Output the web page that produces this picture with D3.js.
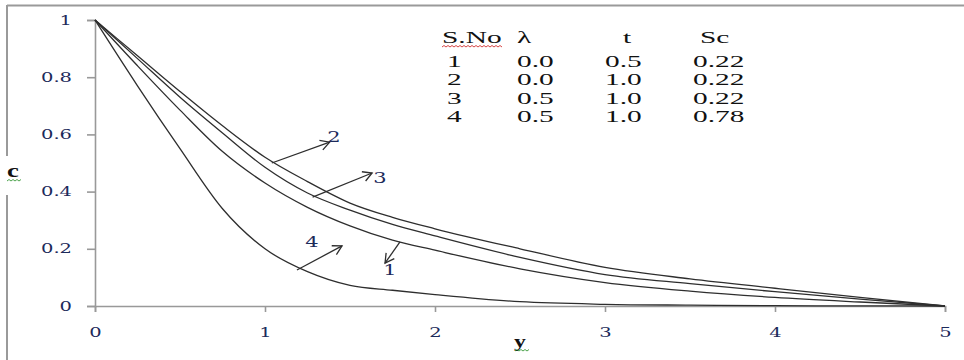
<!DOCTYPE html>
<html>
<head>
<meta charset="utf-8">
<script src="https://cdn.jsdelivr.net/npm/d3@7"></script>
<style>
  body { margin: 0; background: #fff; }
</style>
</head>
<body>
<script>
// distance from the plate
const yPoints = [0, 0.25, 0.5, 0.75, 1, 1.25, 1.5, 1.75, 2, 2.5, 3, 3.5, 4, 4.5, 5]
// concentration profiles, one per case
const conc1 = [1, 0.84, 0.685, 0.54, 0.43, 0.345, 0.28, 0.23, 0.195, 0.13, 0.082, 0.052, 0.03, 0.014, 0]
const conc2 = [1, 0.875, 0.75, 0.63, 0.52, 0.435, 0.36, 0.31, 0.27, 0.2, 0.135, 0.095, 0.062, 0.03, 0]
const conc3 = [1, 0.865, 0.73, 0.605, 0.485, 0.395, 0.335, 0.285, 0.245, 0.17, 0.11, 0.078, 0.05, 0.024, 0]
const conc4 = [1, 0.77, 0.55, 0.34, 0.2, 0.12, 0.072, 0.055, 0.04, 0.015, 0.006, 0.003, 0.001, 0.0005, 0]

const xTicks = [0, 1, 2, 3, 4, 5]
const yTicks = [0, 0.2, 0.4, 0.6, 0.8, 1]

// parameter table
const sNo = ['1', '2', '3', '4']
const lambdaVals = ['0.0', '0.0', '0.5', '0.5']
const tVals = ['0.5', '1.0', '1.0', '1.0']
const scVals = ['0.22', '0.22', '0.22', '0.78']

// arrow annotations: curve label, start point on curve, arrow tip, label position (data units)
const arrowLabels = ['2', '3', '1', '4']
const arrowStart = [[1.04, 0.50], [1.28, 0.381], [1.794, 0.224], [1.188, 0.126]]
const arrowEnd = [[1.38, 0.573], [1.63, 0.465], [1.706, 0.15], [1.453, 0.21]]
const labelPos = [[1.406, 0.59], [1.676, 0.448], [1.735, 0.126], [1.276, 0.224]]

const series = [conc1, conc2, conc3, conc4]

const margin = {top: 20, left: 95}
const width = 850
const height = 286
const stretch = 1.5

const svg = d3.select('body').append('svg')
  .attr('width', 964)
  .attr('height', 360)

// outer frame (top and left edges only are visible)
svg.append('line')
  .attr('x1', 7).attr('x2', 964).attr('y1', 5.5).attr('y2', 5.5)
  .attr('stroke', '#9a9a9a').attr('stroke-width', 2)
svg.append('line')
  .attr('x1', 7).attr('x2', 7).attr('y1', 5).attr('y2', 156)
  .attr('stroke', '#9a9a9a').attr('stroke-width', 2)
svg.append('line')
  .attr('x1', 7).attr('x2', 7).attr('y1', 195).attr('y2', 360)
  .attr('stroke', '#9a9a9a').attr('stroke-width', 2)

const g = svg.append('g')
  .attr('transform', `translate(${margin.left},${margin.top})`)

const xScale = d3.scaleLinear().domain([0, 5]).range([0, width])
const yScale = d3.scaleLinear().domain([0, 1]).range([height, 0])

const tickFont = 'DejaVu Serif'
const tickColor = '#1c2a5a'

const xAxis = d3.axisBottom(xScale).tickValues(xTicks).tickFormat(d3.format('d')).tickSize(6).tickPadding(4)
const yAxis = d3.axisLeft(yScale).tickValues(yTicks).tickFormat(d => d === 0 || d === 1 ? d : d3.format('.1f')(d)).tickSize(8).tickPadding(15)

const xAxisGroup = g.append('g')
  .attr('transform', `translate(0,${height})`)
  .call(xAxis)
const yAxisGroup = g.append('g').call(yAxis)

for (const ag of [xAxisGroup, yAxisGroup]) {
  ag.select('.domain').attr('stroke', '#999').attr('stroke-width', 1.6)
  ag.selectAll('.tick line').attr('stroke', '#999').attr('stroke-width', 1.6)
  ag.selectAll('.tick text')
    .attr('font-family', tickFont)
    .attr('font-size', 13)
    .attr('fill', tickColor)
}
yAxisGroup.selectAll('.tick text')
  .attr('x', -23 / stretch)
  .attr('transform', `scale(${stretch},1)`)
xAxisGroup.selectAll('.tick text')
  .attr('dy', '1.6em')
  .attr('transform', `scale(${stretch},1)`)

// curves
const line = d3.line()
  .x((d, i) => xScale(yPoints[i]))
  .y(d => yScale(d))
  .curve(d3.curveMonotoneX)

g.selectAll('path.curve')
  .data(series)
  .join('path')
  .attr('class', 'curve')
  .attr('d', line)
  .attr('fill', 'none')
  .attr('stroke', '#2e2e2e')
  .attr('stroke-width', 1.3)

// arrows
svg.append('defs').append('marker')
  .attr('id', 'head')
  .attr('markerUnits', 'userSpaceOnUse')
  .attr('markerWidth', 14).attr('markerHeight', 14)
  .attr('refX', 10).attr('refY', 6)
  .attr('orient', 'auto')
  .append('path')
  .attr('d', 'M1,1 L10,6 L1,11')
  .attr('fill', 'none')
  .attr('stroke', '#2e2e2e')
  .attr('stroke-width', 1.3)

g.selectAll('line.arrow')
  .data(arrowLabels)
  .join('line')
  .attr('class', 'arrow')
  .attr('x1', (d, i) => xScale(arrowStart[i][0]))
  .attr('y1', (d, i) => yScale(arrowStart[i][1]))
  .attr('x2', (d, i) => xScale(arrowEnd[i][0]))
  .attr('y2', (d, i) => yScale(arrowEnd[i][1]))
  .attr('stroke', '#2e2e2e')
  .attr('stroke-width', 1.3)
  .attr('marker-end', 'url(#head)')

g.selectAll('text.alabel')
  .data(arrowLabels)
  .join('text')
  .attr('class', 'alabel')
  .attr('transform', (d, i) => `translate(${xScale(labelPos[i][0])},${yScale(labelPos[i][1])}) scale(${stretch},1)`)
  .attr('dy', '0.35em')
  .attr('text-anchor', 'middle')
  .attr('font-family', tickFont)
  .attr('font-size', 14)
  .attr('fill', tickColor)
  .text(d => d)

// axis titles
svg.append('text')
  .attr('transform', `translate(7,177) scale(1.4,1)`)
  .attr('font-family', 'Liberation Serif')
  .attr('font-weight', 'bold')
  .attr('font-size', 19)
  .attr('fill', '#111')
  .text('c')
svg.append('text')
  .attr('transform', `translate(514,347) scale(1.4,1)`)
  .attr('font-family', 'Liberation Serif')
  .attr('font-weight', 'bold')
  .attr('font-size', 17)
  .attr('fill', '#111')
  .text('y')

// spell-check squiggles
function squiggle(x0, x1, y, color) {
  let d = `M${x0},${y}`
  let up = true
  for (let x = x0 + 2; x <= x1; x += 2) {
    d += ` L${x},${up ? y - 1.5 : y}`
    up = !up
  }
  svg.append('path').attr('d', d).attr('fill', 'none')
    .attr('stroke', color).attr('stroke-width', 0.9)
}
squiggle(7, 21, 181, '#3a9a3a')
squiggle(515, 530, 351, '#3a9a3a')
squiggle(442, 502, 47, '#d03030')

// parameter table
const tableFont = 'Liberation Serif'
const tStretch = 1.68
const tSize = 17.5
const headers = [['S.No', 442], ['\u03bb', 517], ['t', 623], ['Sc', 700]]
const cols = [[sNo, 447], [lambdaVals, 517], [tVals, 605], [scVals, 693]]

svg.selectAll('text.head')
  .data(headers)
  .join('text')
  .attr('class', 'head')
  .attr('transform', d => `translate(${d[1]},43) scale(${tStretch},1)`)
  .attr('font-family', tableFont)
  .attr('font-size', tSize)
  .attr('fill', '#111')
  .text(d => d[0])

cols.forEach(([vals, x]) => {
  svg.append('g').selectAll('text')
    .data(vals)
    .join('text')
    .attr('transform', (d, i) => `translate(${x},${67 + i * 18.3}) scale(${tStretch},1)`)
    .attr('font-family', tableFont)
    .attr('font-size', tSize)
    .attr('fill', '#111')
    .text(d => d)
})
</script>
</body>
</html>
